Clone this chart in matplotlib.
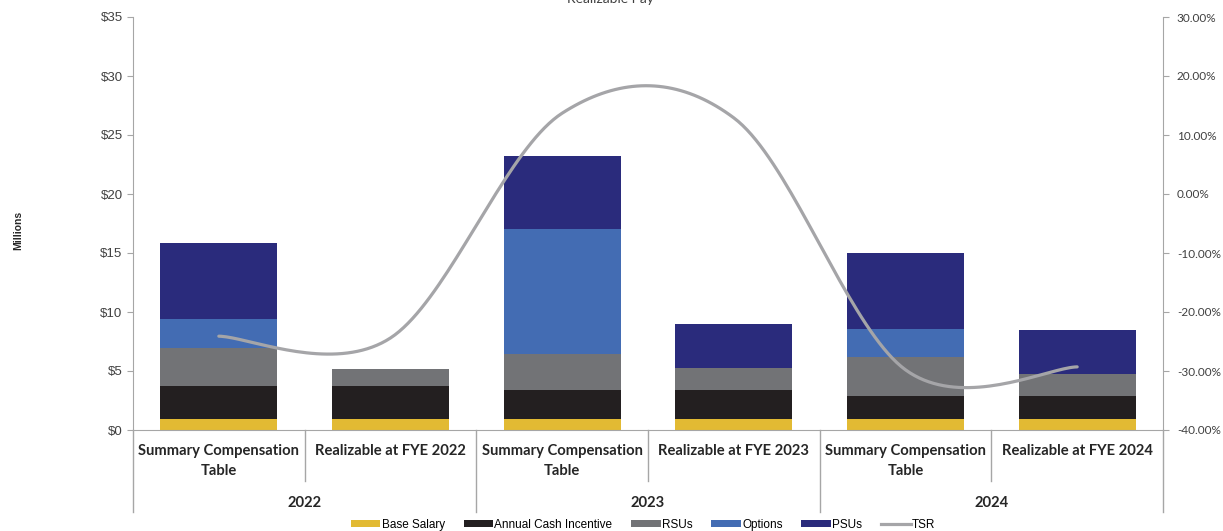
import numpy as np
import matplotlib.pyplot as plt
from matplotlib.patches import Patch
from matplotlib.lines import Line2D

# data (millions / percent)
categories = ['Summary Compensation\nTable', 'Realizable at FYE 2022',
              'Summary Compensation\nTable', 'Realizable at FYE 2023',
              'Summary Compensation\nTable', 'Realizable at FYE 2024']
years = ['2022', '2023', '2024']
base_salary = [0.95, 0.95, 0.95, 0.95, 0.95, 0.95]
annual_cash = [2.8, 2.8, 2.45, 2.45, 1.95, 1.95]
rsus = [3.2, 1.45, 3.05, 1.85, 3.3, 1.85]
options = [2.45, 0.0, 10.6, 0.0, 2.4, 0.0]
psus = [6.45, 0.0, 6.2, 3.75, 6.4, 3.75]
tsr = [-24.1, -24.4, 13.7, 12.9, -29.8, -29.3]

series = [('Base Salary', base_salary, '#E2BA33'),
          ('Annual Cash Incentive', annual_cash, '#231F20'),
          ('RSUs', rsus, '#727376'),
          ('Options', options, '#436CB3'),
          ('PSUs', psus, '#2A2B7C')]
tsr_color = '#A5A5A8'
axis_color = '#A6A6A6'
text_color = '#404040'


def smooth(xs, ys, n=40):
    # excel-style smoothed line: cubic bezier with catmull-rom control points
    p = np.column_stack([xs, ys]).astype(float)
    out = []
    for i in range(len(p) - 1):
        p0 = p[i - 1] if i > 0 else p[i]
        p3 = p[i + 2] if i + 2 < len(p) else p[i + 1]
        c1 = p[i] + (p[i + 1] - p0) / 6
        c2 = p[i + 1] - (p3 - p[i]) / 6
        t = np.linspace(0, 1, n)[:, None]
        seg = ((1 - t) ** 3 * p[i] + 3 * (1 - t) ** 2 * t * c1
               + 3 * (1 - t) * t ** 2 * c2 + t ** 3 * p[i + 1])
        out.append(seg if i == 0 else seg[1:])
    out = np.vstack(out)
    return out[:, 0], out[:, 1]


fig = plt.figure(figsize=(12.23, 5.31), dpi=100)
ax = fig.add_axes([133 / 1223, 1 - 430 / 531, 1030 / 1223, 413 / 531])
x = np.arange(len(categories))

bottom = np.zeros(len(x))
for name, vals, col in series:
    ax.bar(x, vals, 0.68, bottom=bottom, color=col, label=name, zorder=2)
    bottom += np.array(vals)

ax.set_xlim(-0.5, len(x) - 0.5)
ax.set_ylim(0, 35)
ax.set_yticks(np.arange(0, 36, 5))
ax.set_yticklabels([f'${v}' for v in range(0, 36, 5)],
                   fontsize=9.5, color=text_color, family='Liberation Sans')
ax.set_xticks([])
for s in ['top', 'right']:
    ax.spines[s].set_visible(False)
for s in ['left', 'bottom']:
    ax.spines[s].set_color(axis_color)
ax.tick_params(axis='y', color=axis_color, length=4)

ax2 = ax.twinx()
ax2.set_ylim(-40, 30)
ax2.set_yticks(np.arange(-40, 31, 10))
ax2.set_yticklabels([f'{v:.2f}%' for v in range(-40, 31, 10)],
                    fontsize=8.5, color=text_color, family='Lato')
for s in ['top', 'left', 'bottom']:
    ax2.spines[s].set_visible(False)
ax2.spines['right'].set_color(axis_color)
ax2.tick_params(axis='y', color=axis_color, length=4, pad=6)
sx, sy = smooth(x, tsr)
ax2.plot(sx, sy, color=tsr_color, lw=2.3, solid_capstyle='round', zorder=3)

# multi-level category axis
tr = ax.get_xaxis_transform()
for i, lab in enumerate(categories):
    ax.text(i, -0.033, lab, transform=tr, ha='center', va='top',
            fontsize=10.6, fontweight='bold', family='Lato', color='#262626',
            linespacing=1.6)
for b in [0.5, 2.5, 4.5]:
    ax.plot([b, b], [0, -0.124], transform=tr, color=axis_color, lw=1,
            clip_on=False)
for b in [-0.5, 1.5, 3.5, 5.5]:
    ax.plot([b, b], [0, -0.199], transform=tr, color=axis_color, lw=1,
            clip_on=False)
for j, yr in enumerate(years):
    ax.text(2 * j + 0.5, -0.176, yr, transform=tr, ha='center', va='center',
            fontsize=10.6, fontweight='bold', family='Lato', color='#262626')

fig.text(18 / 1223, 1 - 230 / 531, 'Millions', rotation=90, ha='center',
         va='center', fontsize=7.5, fontweight='bold', color='#262626',
         family='Liberation Sans')
fig.text(610 / 1223, 1 + 1 / 531, 'Realizable Pay', ha='center', va='center',
         fontsize=10, color=text_color, family='Lato')

handles = [Patch(facecolor=c, label=n) for n, _, c in series]
handles.append(Line2D([0], [0], color=tsr_color, lw=2.3, label='TSR'))
fig.legend(handles=handles, loc='center', bbox_to_anchor=(643 / 1223, 1 - 525 / 531),
           ncol=6, frameon=False, handlelength=2.5, handleheight=0.55,
           handletextpad=0.1, columnspacing=1.6,
           prop={'family': 'Liberation Sans', 'size': 8.5})

fig.savefig('out.png', dpi=100)
